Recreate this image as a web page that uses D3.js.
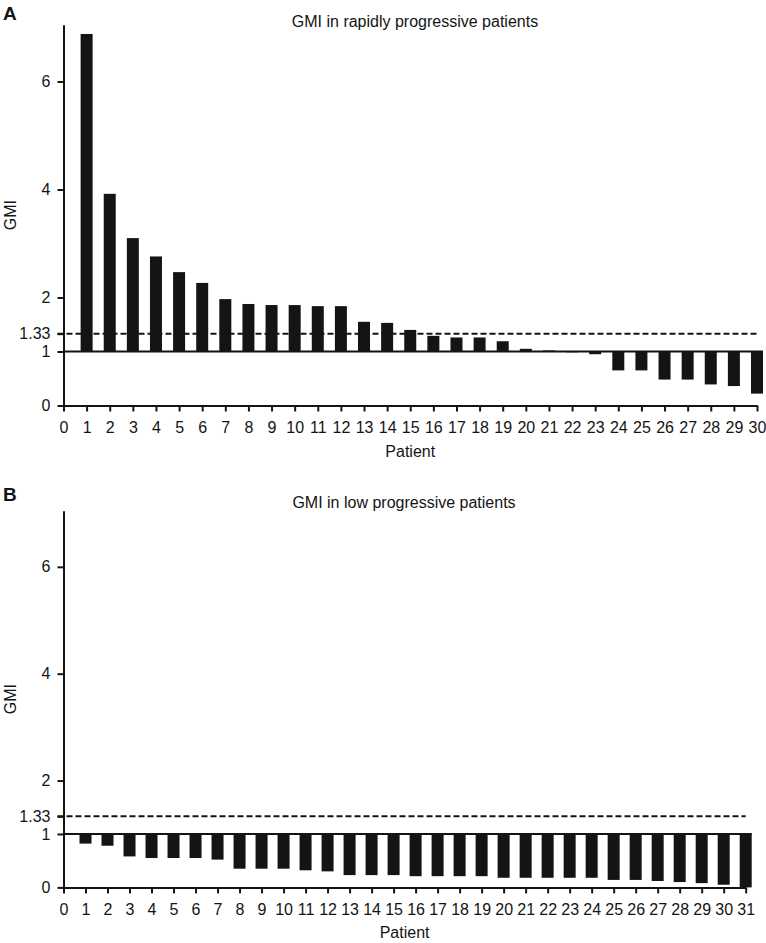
<!DOCTYPE html>
<html>
<head>
<meta charset="utf-8">
<script src="https://cdn.jsdelivr.net/npm/d3@7"></script>
<style>
body { margin: 0; background: #fff; }
svg text { font-family: "Liberation Sans", Arial, Helvetica, sans-serif; }
</style>
</head>
<body>
<div id="chart"></div>
<script>
// GMI per patient
var gmiRapid = [6.88, 3.92, 3.10, 2.76, 2.47, 2.27, 1.97, 1.88, 1.86, 1.86,
                1.84, 1.84, 1.55, 1.53, 1.40, 1.29, 1.26, 1.26, 1.19, 1.05,
                1.02, 0.99, 0.95, 0.65, 0.65, 0.48, 0.48, 0.39, 0.36, 0.22];
var gmiLow = [0.82, 0.78, 0.58, 0.55, 0.55, 0.55, 0.52, 0.35, 0.35, 0.35,
              0.32, 0.30, 0.23, 0.23, 0.23, 0.21, 0.21, 0.21, 0.21, 0.18,
              0.18, 0.18, 0.18, 0.18, 0.14, 0.14, 0.12, 0.10, 0.08, 0.05, 0.0];
var yTicks = [0, 1, 1.33, 2, 4, 6];
var reference = 1;
var threshold = 1.33;
var titles = ["GMI in rapidly progressive patients", "GMI in low progressive patients"];
var letters = ["A", "B"];

var w = 766, h = 943;
var ink = "#141414";

var svg = d3.select("#chart").append("svg")
    .attr("width", w)
    .attr("height", h);

function drawPanel(values, p) {
    var n = values.length;
    var x0 = 63.5;

    var x = d3.scaleLinear().domain([0, n]).range([x0, p.xRight]);
    var y = d3.scaleLinear().domain([0, 7.05]).range([p.bottom, p.bottom - 7.05 * p.unit]);
    var bw = 12;

    var g = svg.append("g");

    // bars hang from the reference line at 1
    g.selectAll(".bar")
        .data(values)
        .enter()
        .append("rect")
        .attr("class", "bar")
        .attr("x", function(d, i) { return x(i + 1) - bw / 2; })
        .attr("y", function(d) { return y(Math.max(d, reference)); })
        .attr("width", bw)
        .attr("height", function(d) { return Math.max(Math.abs(y(d) - y(reference)), 0.8); })
        .attr("fill", ink);

    // reference line and dashed threshold
    g.append("line")
        .attr("x1", x0).attr("x2", x(n) + bw / 2)
        .attr("y1", y(reference)).attr("y2", y(reference))
        .attr("stroke", ink).attr("stroke-width", 2);

    g.append("line")
        .attr("x1", x0 - 6).attr("x2", x(n))
        .attr("y1", y(threshold)).attr("y2", y(threshold))
        .attr("stroke", ink).attr("stroke-width", 2)
        .attr("stroke-dasharray", "6,3");

    // axes
    var yAxis = g.append("g")
        .attr("transform", "translate(" + x0 + ",0)")
        .call(d3.axisLeft(y)
            .tickValues(yTicks)
            .tickFormat(function(d) { return d === 1.33 ? "1.33" : d; })
            .tickSize(6).tickPadding(7).tickSizeOuter(0));

    var xAxis = g.append("g")
        .attr("transform", "translate(0," + p.bottom + ")")
        .call(d3.axisBottom(x)
            .tickValues(d3.range(0, n + 1))
            .tickSize(6).tickPadding(10).tickSizeOuter(0));

    [yAxis, xAxis].forEach(function(a) {
        a.attr("color", ink).attr("font-size", 16)
            .attr("font-family", "'Liberation Sans', Arial, sans-serif");
        a.selectAll("path, line").attr("stroke-width", 2);
    });

    // labels
    g.append("text")
        .attr("x", p.titleX).attr("y", p.bottom - 379)
        .attr("text-anchor", "middle")
        .attr("font-size", "16px")
        .attr("fill", ink)
        .text(p.title);

    g.append("text")
        .attr("x", 3).attr("y", p.bottom - 386)
        .attr("font-size", "19px")
        .attr("font-weight", "bold")
        .attr("fill", ink)
        .text(p.letter);

    g.append("text")
        .attr("transform", "translate(16," + (y(0) + y(7.05)) / 2 + ") rotate(-90)")
        .attr("text-anchor", "middle")
        .attr("font-size", "16px")
        .attr("fill", ink)
        .text("GMI");

    g.append("text")
        .attr("x", (x0 + x(n)) / 2).attr("y", p.bottom + 51)
        .attr("text-anchor", "middle")
        .attr("font-size", "16px")
        .attr("fill", ink)
        .text("Patient");
}

drawPanel(gmiRapid, { bottom: 405.5, unit: 54, xRight: 757, titleX: 415, title: titles[0], letter: letters[0] });
drawPanel(gmiLow, { bottom: 887.4, unit: 53.43, xRight: 745.7, titleX: 404, title: titles[1], letter: letters[1] });
</script>
</body>
</html>
